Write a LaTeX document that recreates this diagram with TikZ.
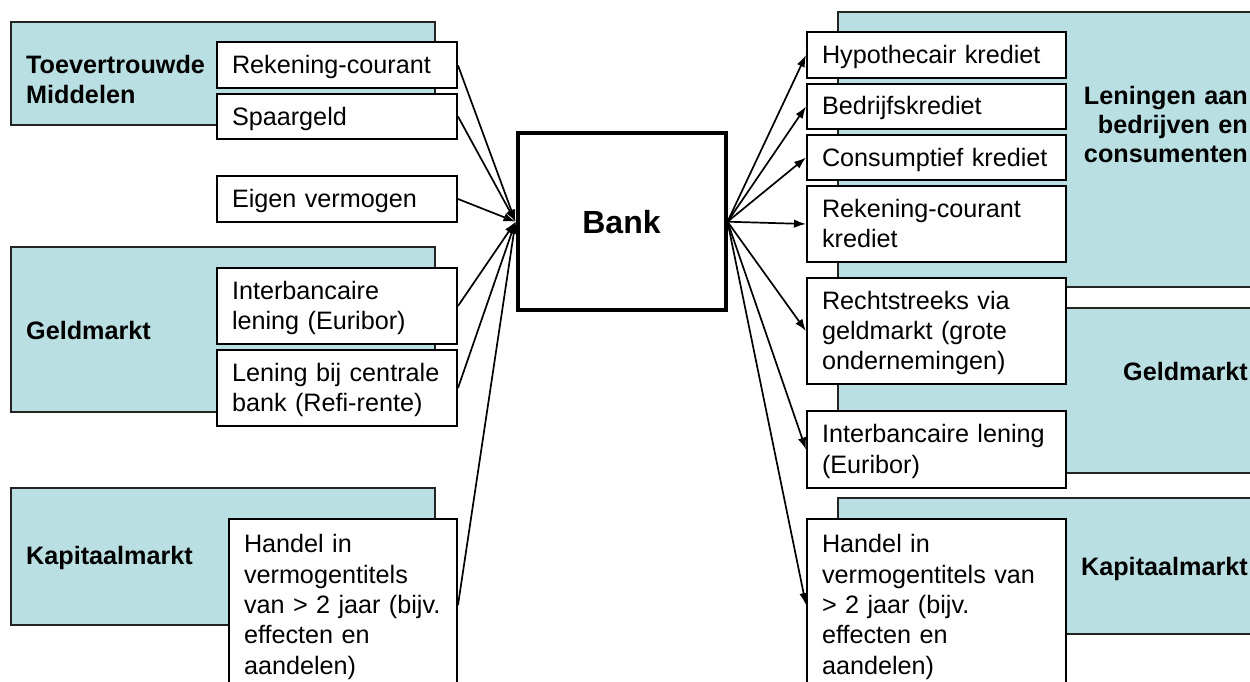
\documentclass[tikz,border=0pt]{standalone}
\usepackage{fontspec}
\setmainfont{Liberation Sans}
\usetikzlibrary{arrows.meta}
\definecolor{tealfill}{RGB}{185,223,226}
\definecolor{tealline}{RGB}{35,35,35}
\begin{document}
\begin{tikzpicture}[x=1pt,y=-1pt,
  market/.style={draw=tealline, line width=1.5pt, fill=tealfill, inner sep=0pt},
  item/.style={draw=black, line width=2pt, fill=white, inner xsep=15pt, inner ysep=0pt,
    align=left, text height=21pt, font=\fontsize{25.2}{30.3}\selectfont},
  oneline/.style={text depth=4pt},
  twolines/.style={text depth=34.3pt},
  threelines/.style={text depth=64.6pt},
  fivelines/.style={text depth=125.2pt},
  mlabel/.style={inner sep=0pt, text width=200pt, font=\bfseries\fontsize{25.2}{30}\selectfont},
  bankbox/.style={draw=black, line width=4pt, fill=white, inner sep=0pt,
    font=\bfseries\fontsize{32}{36}\selectfont},
  flow/.style={line width=1.7pt, -{Latex[length=12pt,width=8.5pt]}}]
\useasboundingbox (0,0) rectangle (1250,682);
\clip (0,0) rectangle (1250,682);

% market areas, left
\node[market, minimum width=424pt, minimum height=103pt] (mL1) at (223,73.5) {};
\node[market, minimum width=424pt, minimum height=165pt] (mL2) at (223,329.5) {};
\node[market, minimum width=424pt, minimum height=137pt] (mL3) at (223,556.5) {};
% market areas, right
\node[market, minimum width=432pt, minimum height=275pt] (mR1) at (1054,149.5) {};
\node[market, minimum width=432pt, minimum height=165pt] (mR2) at (1054,390.5) {};
\node[market, minimum width=432pt, minimum height=136pt] (mR3) at (1054,566) {};

% market labels
\node[mlabel, anchor=base west, align=left] (tL1) at (26,74) {Toevertrouwde\\Middelen};
\node[mlabel, anchor=base west, align=left] (tL2) at (26,339) {Geldmarkt};
\node[mlabel, anchor=base west, align=left] (tL3) at (26,564) {Kapitaalmarkt};
\node[mlabel, anchor=base east, align=right, font=\bfseries\fontsize{25.2}{29}\selectfont] (tR1) at (1248,105) {Leningen aan\\bedrijven en\\consumenten};
\node[mlabel, anchor=base east, align=right] (tR2) at (1248,380) {Geldmarkt};
\node[mlabel, anchor=base east, align=right] (tR3) at (1248,575) {Kapitaalmarkt};

% left items
\node[item, oneline, text width=210pt, minimum height=46pt] (rc) at (337,65.4) {Rekening-courant};
\node[item, oneline, text width=210pt, minimum height=45pt] (sp) at (337,116.5) {Spaargeld};
\node[item, oneline, text width=210pt, minimum height=46pt] (ev) at (337,199) {Eigen vermogen};
\node[item, twolines, text width=210pt, minimum height=76pt] (ibl) at (337,306) {Interbancaire\\lening (Euribor)};
\node[item, twolines, text width=210pt, minimum height=76pt] (lcb) at (337,388) {Lening bij centrale\\bank (Refi-rente)};
\node[item, fivelines, text width=198pt, minimum height=172pt] (hanl) at (343,605) {Handel in\\vermogentitels\\van > 2 jaar (bijv.\\effecten en\\aandelen)};

% right items
\node[item, oneline, text width=229pt, minimum height=45.4pt] (hyp) at (936.5,55) {Hypothecair krediet};
\node[item, oneline, text width=229pt, minimum height=45pt] (bed) at (936.5,106.5) {Bedrijfskrediet};
\node[item, oneline, text width=229pt, minimum height=45pt] (con) at (936.5,157.5) {Consumptief krediet};
\node[item, twolines, text width=229pt, minimum height=76pt] (rck) at (936.5,224) {Rekening-courant\\krediet};
\node[item, threelines, text width=229pt, minimum height=106pt] (rec) at (936.5,331) {Rechtstreeks via\\geldmarkt (grote\\ondernemingen)};
\node[item, twolines, text width=229pt, minimum height=77pt] (ibr) at (936.5,449.5) {Interbancaire lening\\(Euribor)};
\node[item, fivelines, text width=229pt, minimum height=172pt] (hanr) at (936.5,605) {Handel in\\vermogentitels van\\> 2 jaar (bijv.\\effecten en\\aandelen)};

% bank
\node[bankbox, minimum width=208pt, minimum height=177pt] (bank) at (621.5,221.7) {Bank};

% flows into the bank
\foreach \s in {rc,sp,ev,ibl,lcb,hanl}
  \draw[flow] (\s.east) -- (bank.west);
% flows out of the bank
\foreach \t in {hyp,bed,con,rck,rec,ibr,hanr}
  \draw[flow] (bank.east) -- (\t.west);
\end{tikzpicture}
\end{document}
